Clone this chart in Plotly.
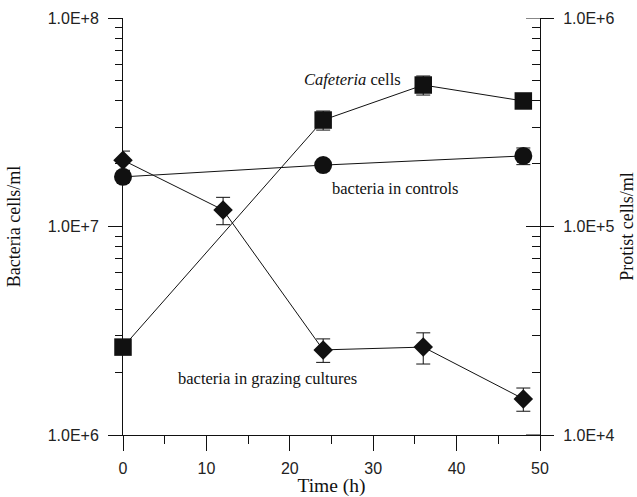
import plotly.graph_objects as go

# ---- data ----
time = [0, 12, 24, 36, 48]
bact_grazing = [2.08e7, 1.20e7, 2.56e6, 2.64e6, 1.49e6]
bact_grazing_err = [2.2e6, 1.8e6, 0.33e6, 0.45e6, 0.19e6]

time_ctrl = [0, 24, 48]
bact_ctrl = [1.73e7, 1.97e7, 2.18e7]
bact_ctrl_err = [1.0e6, 1.0e6, 2.0e6]

time_caf = [0, 24, 36, 48]
cafeteria = [2.64e4, 3.24e5, 4.77e5, 4.00e5]
cafeteria_err = [1.0e3, 3.4e4, 5.0e4, 1.0e4]

x_ticks = [0, 10, 20, 30, 40, 50]
left_tickvals = [1e6, 1e7, 1e8]
left_ticktext = ["1.0E+6", "1.0E+7", "1.0E+8"]
right_tickvals = [1e4, 1e5, 1e6]
right_ticktext = ["1.0E+4", "1.0E+5", "1.0E+6"]

left_minor = [m * 10 ** e for e in (6, 7) for m in range(2, 10)]
right_minor = [m * 10 ** e for e in (4, 5) for m in range(2, 10)]

SERIF = "Liberation Serif, Times New Roman, serif"
SANS = "Liberation Sans, Arial, sans-serif"
BLACK = "#111"

fig = go.Figure()

err_style = dict(type="data", thickness=1, width=7, color=BLACK)

fig.add_trace(go.Scatter(
    x=time, y=bact_grazing, mode="lines+markers",
    error_y=dict(array=bact_grazing_err, **err_style),
    line=dict(color=BLACK, width=1),
    marker=dict(symbol="diamond", size=15, color=BLACK),
    cliponaxis=False, showlegend=False, name="bacteria in grazing cultures"))

fig.add_trace(go.Scatter(
    x=time_ctrl, y=bact_ctrl, mode="lines+markers",
    error_y=dict(array=bact_ctrl_err, **err_style),
    line=dict(color=BLACK, width=1),
    marker=dict(symbol="circle", size=18, color=BLACK),
    cliponaxis=False, showlegend=False, name="bacteria in controls"))

fig.add_trace(go.Scatter(
    x=time_caf, y=cafeteria, mode="lines+markers", yaxis="y2",
    error_y=dict(array=cafeteria_err, **err_style),
    line=dict(color=BLACK, width=1),
    marker=dict(symbol="square", size=17.5, color=BLACK),
    cliponaxis=False, showlegend=False, name="Cafeteria cells"))

# inner halves of the right-axis major ticks (they cross the axis line)
for v in right_tickvals:
    fig.add_shape(type="line", xref="paper", yref="y2",
                  x0=1 - 14 / 417, x1=1, y0=v, y1=v,
                  line=dict(color=BLACK, width=1))

ann_font = dict(family=SERIF, size=16.5, color=BLACK)
fig.add_annotation(x=27.5, y=7.703, text="<i>Cafeteria</i> cells",
                   showarrow=False, font=ann_font)
fig.add_annotation(x=32.6, y=7.18, text="bacteria in controls",
                   showarrow=False, font=ann_font)
fig.add_annotation(x=17.3, y=6.269, text="bacteria in grazing cultures",
                   showarrow=False, font=ann_font)

fig.update_layout(
    width=637, height=497,
    margin=dict(l=123, r=97, t=18, b=62, autoexpand=False),
    paper_bgcolor="white", plot_bgcolor="white",
    xaxis=dict(
        range=[0, 50], tickvals=x_ticks, showgrid=False, zeroline=False, automargin=False,
        showline=True, linecolor=BLACK, linewidth=1,
        ticks="outside", ticklen=15, tickwidth=1, tickcolor=BLACK,
        minor=dict(dtick=5, ticks="outside", ticklen=8, tickwidth=1, tickcolor=BLACK),
        tickfont=dict(family=SANS, size=16, color="#222"),
        ticklabelstandoff=4,
        title=dict(text="Time (h)", font=dict(family=SERIF, size=19.5, color=BLACK), standoff=4),
    ),
    yaxis=dict(
        type="log", range=[6, 8], tickvals=left_tickvals, ticktext=left_ticktext,
        showgrid=False, zeroline=False, automargin=False,
        showline=True, linecolor=BLACK, linewidth=1,
        ticks="outside", ticklen=14, tickwidth=1, tickcolor=BLACK,
        minor=dict(tickvals=left_minor, ticks="outside", ticklen=7, tickwidth=1,
                   tickcolor=BLACK, showgrid=False),
        tickfont=dict(family=SANS, size=16, color="#222"),
        ticklabelstandoff=6,
        title=dict(text="Bacteria cells/ml", font=dict(family=SERIF, size=18, color=BLACK), standoff=22),
    ),
    yaxis2=dict(
        type="log", range=[4, 6], overlaying="y", side="right", anchor="x",
        tickvals=right_tickvals, ticktext=right_ticktext, automargin=False,
        showgrid=False, zeroline=False, showline=True, linecolor=BLACK, linewidth=1,
        ticks="outside", ticklen=13, tickwidth=1, tickcolor=BLACK,
        minor=dict(tickvals=right_minor, ticks="inside", ticklen=8, tickwidth=1,
                   tickcolor=BLACK, showgrid=False),
        tickfont=dict(family=SANS, size=16, color="#222"),
        ticklabelstandoff=6,
        title=dict(text="Protist cells/ml", font=dict(family=SERIF, size=18, color=BLACK), standoff=6),
    ),
)

fig.write_html("out.html", config={"displayModeBar": False},
               post_script="document.body.style.margin='0';")
